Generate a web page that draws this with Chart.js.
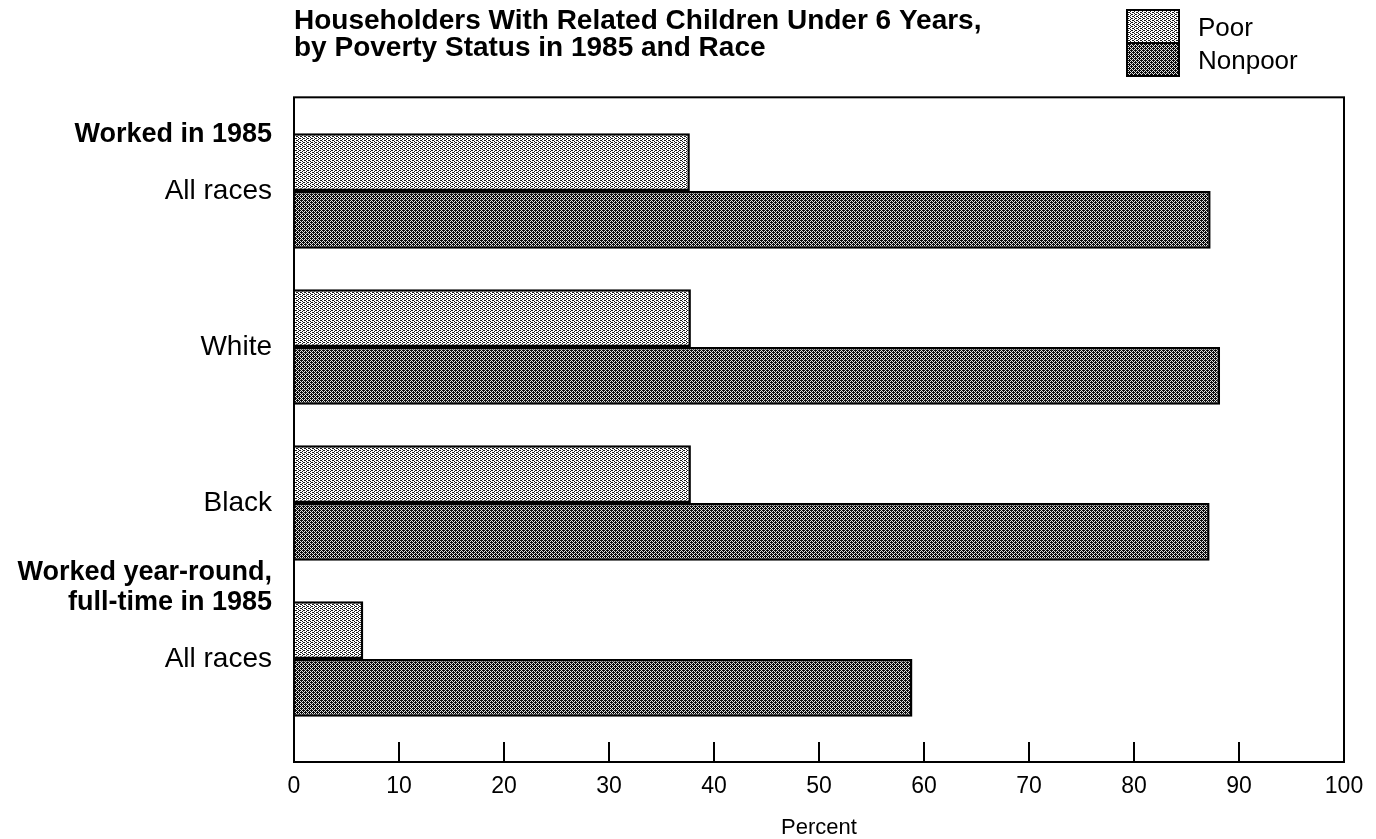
<!DOCTYPE html>
<html>
<head>
<meta charset="utf-8">
<style>
  html, body { margin: 0; padding: 0; background: #fff; }
  #wrap { width: 1376px; height: 839px; }
</style>
<script src="https://cdn.jsdelivr.net/npm/chart.js@4/dist/chart.umd.min.js"></script>
</head>
<body>
<div id="wrap"><canvas id="c" width="1376" height="839"></canvas></div>
<script>
// ---- Data ----
const categories = ["All races", "White", "Black", "All races"];
const poorValues = [37.7, 37.8, 37.8, 6.6];
const nonpoorValues = [87.3, 88.2, 87.2, 58.9];
const seriesNames = ["Poor", "Nonpoor"];
const xTickValues = [0, 10, 20, 30, 40, 50, 60, 70, 80, 90, 100];
const groupHeaders = [
  { index: 0, lines: ["Worked in 1985"] },
  { index: 3, lines: ["Worked year-round,", "full-time in 1985"] }
];
const titleLines = [
  "Householders With Related Children Under 6 Years,",
  "by Poverty Status in 1985 and Race"
];
const axisTitle = "Percent";

// ---- Fill patterns (halftone look) ----
function makePattern(size, dots, ink, paper) {
  const c = document.createElement('canvas');
  c.width = size; c.height = size;
  const g = c.getContext('2d');
  g.fillStyle = paper; g.fillRect(0, 0, size, size);
  g.fillStyle = ink;
  dots.forEach(([x, y]) => g.fillRect(x, y, 1, 1));
  return document.getElementById('c').getContext('2d').createPattern(c, 'repeat');
}
const poorFill = makePattern(4, [[0,0],[2,1],[0,2],[2,3],[1,0],[3,2]], '#1a1a1a', '#ffffff');
const nonpoorFill = makePattern(4, [[0,0],[2,0],[1,1],[3,1],[0,2],[2,2],[1,3],[3,3],[1,0],[3,2]], '#0a0a0a', '#e0e0e0');

const FONT = '"Liberation Sans", Arial, Helvetica, sans-serif';
Chart.defaults.font.family = FONT;
Chart.defaults.color = '#000';

const decorations = {
  id: 'decorations',
  afterDraw(chart) {
    const { ctx, chartArea: a, scales: { x, y } } = chart;
    ctx.save();
    // frame
    ctx.strokeStyle = '#000';
    ctx.lineWidth = 2;
    ctx.strokeRect(a.left, a.top, a.right - a.left, a.bottom - a.top);
    // inward tick marks
    xTickValues.slice(1, -1).forEach(v => {
      const px = Math.round(x.getPixelForValue(v));
      ctx.beginPath();
      ctx.moveTo(px, a.bottom);
      ctx.lineTo(px, a.bottom - 20);
      ctx.stroke();
    });
    // group headers
    ctx.font = 'bold 27px ' + FONT;
    ctx.fillStyle = '#000';
    ctx.textAlign = 'right';
    ctx.textBaseline = 'middle';
    groupHeaders.forEach(h => {
      const base = y.getPixelForValue(h.index) - 56;
      h.lines.forEach((line, i) => {
        const yy = base - (h.lines.length - 1 - i) * 30;
        ctx.fillText(line, a.left - 22, yy);
      });
    });
    // legend
    const ds = chart.data.datasets;
    const bx = 1127, bw = 52, bh = 33, by = 10;
    ds.forEach((d, i) => {
      ctx.fillStyle = d.backgroundColor;
      ctx.fillRect(bx, by + i * bh, bw, bh);
    });
    ctx.lineWidth = 2;
    ctx.strokeStyle = '#000';
    ctx.strokeRect(bx, by, bw, bh * ds.length);
    ctx.beginPath();
    ctx.moveTo(bx, by + bh); ctx.lineTo(bx + bw, by + bh); ctx.stroke();
    ctx.font = '26px ' + FONT;
    ctx.fillStyle = '#000';
    ctx.textAlign = 'left';
    ds.forEach((d, i) => {
      ctx.fillText(d.label, bx + bw + 19, by + i * bh + bh / 2 + 2);
    });
    ctx.restore();
  }
};

new Chart(document.getElementById('c'), {
  type: 'bar',
  data: {
    datasets: [
      {
        label: seriesNames[0],
        data: poorValues.map((v, i) => ({ x: v, y: i })),
        backgroundColor: poorFill,
        borderColor: '#000',
        borderWidth: 2.5,
        borderSkipped: 'start'
      },
      {
        label: seriesNames[1],
        data: nonpoorValues.map((v, i) => ({ x: v, y: i })),
        backgroundColor: nonpoorFill,
        borderColor: '#000',
        borderWidth: 2.5,
        borderSkipped: 'start'
      }
    ]
  },
  options: {
    indexAxis: 'y',
    responsive: false,
    animation: false,
    devicePixelRatio: 1,
    categoryPercentage: 0.74,
    barPercentage: 1.0,
    layout: { padding: { top: 0, right: 32, bottom: 0, left: 0 } },
    plugins: {
      legend: { display: false },
      tooltip: { enabled: false },
      title: {
        display: true,
        text: titleLines,
        align: 'start',
        fullSize: false,
        font: { size: 28, weight: 'bold', lineHeight: 0.97 },
        color: '#000',
        padding: { top: 8, bottom: 35 }
      }
    },
    scales: {
      x: {
        type: 'linear',
        min: 0,
        max: 100,
        ticks: { stepSize: 10, font: { size: 23 }, color: '#000', padding: 11, maxRotation: 0 },
        afterBuildTicks: s => { s.ticks = xTickValues.map(v => ({ value: v })); },
        grid: { display: false, drawTicks: false },
        border: { display: false },
        title: { display: true, text: axisTitle, font: { size: 22, lineHeight: 1 }, padding: { top: 0, bottom: 0 }, color: '#000' },
        afterFit: s => { s.height = 77; }
      },
      y: {
        type: 'linear',
        reverse: true,
        offset: false,
        min: -0.6,
        max: 3.66,
        afterBuildTicks: s => { s.ticks = categories.map((c, i) => ({ value: i })); },
        ticks: {
          autoSkip: false,
          font: { size: 28 },
          color: '#000',
          padding: 22,
          callback: v => categories[v]
        },
        grid: { display: false, drawTicks: false, offset: false },
        border: { display: false },
        afterFit: s => { s.width = 294; }
      }
    }
  },
  plugins: [decorations]
});
</script>
</body>
</html>
